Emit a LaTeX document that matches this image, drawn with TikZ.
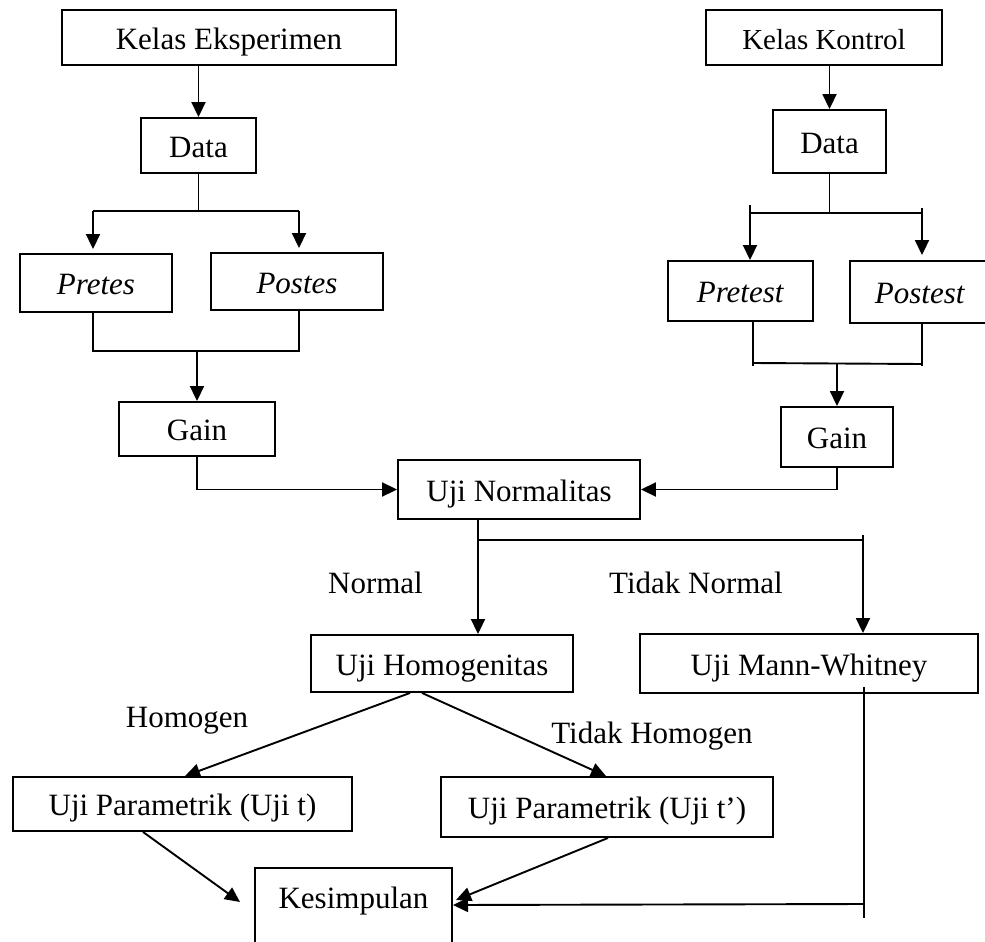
\documentclass[tikz,border=0pt]{standalone}
\usepackage{fontspec}
\setmainfont{Liberation Serif}
\usetikzlibrary{arrows.meta}
\begin{document}
\begin{tikzpicture}[x=1pt,y=-1pt,
  line width=1.9pt,
  box/.style={draw, line width=1.9pt, inner sep=0pt, font=\fontsize{31}{37}\selectfont, text height=26pt, text depth=3pt},
  lbl/.style={font=\fontsize{31}{37}\selectfont, inner sep=0pt, anchor=base},
  arr/.style={-{Triangle[length=15pt,width=14pt]}},
]
\useasboundingbox (0,0) rectangle (985,942);

% boxes
\node[box, minimum width=334pt, minimum height=55pt] (ke) at (229,37.5) {Kelas Eksperimen};
\node[box, minimum width=236pt, minimum height=55pt, font=\fontsize{29}{35}\selectfont] (kk) at (824,37.5) {Kelas Kontrol};
\node[box, minimum width=115pt, minimum height=55pt] (dl) at (198.5,145.5) {Data};
\node[box, minimum width=113pt, minimum height=63pt] (dr) at (829.5,141.5) {Data};
\node[box, minimum width=152pt, minimum height=58pt] (pre) at (96,283) {\textit{Pretes}};
\node[box, minimum width=172pt, minimum height=57pt] (post) at (297,281.5) {\textit{Postes}};
\node[box, minimum width=145pt, minimum height=60pt] (pret) at (740.5,291) {\textit{Pretest}};
\node[box, minimum width=140pt, minimum height=62pt] (postt) at (920,292) {\textit{Postest}};
\node[box, minimum width=156pt, minimum height=54pt] (gl) at (197,429) {Gain};
\node[box, minimum width=112pt, minimum height=60pt] (gr) at (837,437) {Gain};
\node[box, minimum width=242pt, minimum height=59pt] (un) at (519,489.5) {Uji Normalitas};
\node[box, minimum width=262pt, minimum height=57pt] (uh) at (442,663.5) {Uji Homogenitas};
\node[box, minimum width=338pt, minimum height=59pt] (mw) at (809,663.5) {Uji Mann-Whitney};
\node[box, minimum width=339pt, minimum height=54pt] (pt) at (182.5,804) {Uji Parametrik (Uji t)};
\node[box, minimum width=332pt, minimum height=60pt] (pu) at (607,807) {Uji Parametrik (Uji t’)};
\node[box, minimum width=197pt, minimum height=110pt, anchor=north] (ks) at (353.5,867) {};
\node[lbl] (kst) at (353.5,908) {Kesimpulan};

% labels
\node[lbl] (ln) at (375.5,593) {Normal};
\node[lbl] (ltn) at (696,593) {Tidak Normal};
\node[lbl] (lh) at (187,727) {Homogen};
\node[lbl] (lth) at (652,743) {Tidak Homogen};

% top arrows
\draw[arr] (ke.south -| dl.north) -- (dl.north);
\draw[arr] (kk.south -| dr.north) -- (dr.north);

% left split
\draw (dl.south) -- ++(0,38) coordinate (dlj);
\coordinate (al) at (93,211);
\coordinate (ar) at (299,211);
\draw (al) -- (ar);
\draw[arr, shorten >=4pt] (al) -- (al |- pre.north);
\draw[arr, shorten >=4pt] (ar) -- (ar |- post.north);

% left merge
\draw (pre.south -| al) -- ++(0,38) coordinate (ml) -- (ml -| ar) coordinate (mr) -- (post.south -| ar);
\draw[arr] (ml -| gl.north) -- (gl.north);
\draw[arr] (gl.south) |- (un.west);

% right split
\draw (dr.south) -- ++(0,39) coordinate (drj);
\coordinate (bl) at (750,205);
\coordinate (br) at (922,208);
\draw (drj -| bl) -- (drj -| br);
\draw[arr] (bl) -- (bl |- pret.north);
\draw[arr, shorten >=5pt] (br) -- (br |- postt.north);

% right merge
\coordinate (cl) at (753,366);
\coordinate (cr) at (922,366);
\draw (cl |- pret.south) -- (cl);
\draw (cr |- postt.south) -- (cr);
\coordinate (hl) at (753,363);
\coordinate (hr) at (922,364);
\draw (hl) -- (hr);
\draw[arr] (hl -| gr.north) -- (gr.north);
\draw[arr] (gr.south) |- (un.east);

% normality split
\coordinate (ns) at ([xshift=-41pt]un.south);
\draw[arr] (ns) -- (ns |- uh.north);
\coordinate (hn) at (478,540);
\coordinate (tn) at (863,535);
\draw (hn) -- (hn -| tn);
\draw[arr] (tn) -- (tn |- mw.north);

% homogeneity split
\draw[arr] ([xshift=-32pt]uh.south) -- ([xshift=2.5pt]pt.north);
\draw[arr] ([xshift=-20pt]uh.south) -- ([xshift=-1pt]pu.north);

% to conclusion
\coordinate (ksl) at (240,902);
\coordinate (ksr) at (456,900);
\draw[arr] ([xshift=-39.5pt]pt.south) -- (ksl);
\draw[arr] ([xshift=1pt]pu.south) -- (ksr);
\coordinate (mwt) at (864,687);
\coordinate (mwb) at (864,918);
\draw (mwt) -- (mwb);
\coordinate (mwh) at (864,904);
\coordinate (ksh) at (453,905);
\draw[arr] (mwh) -- (ksh);
\end{tikzpicture}
\end{document}
